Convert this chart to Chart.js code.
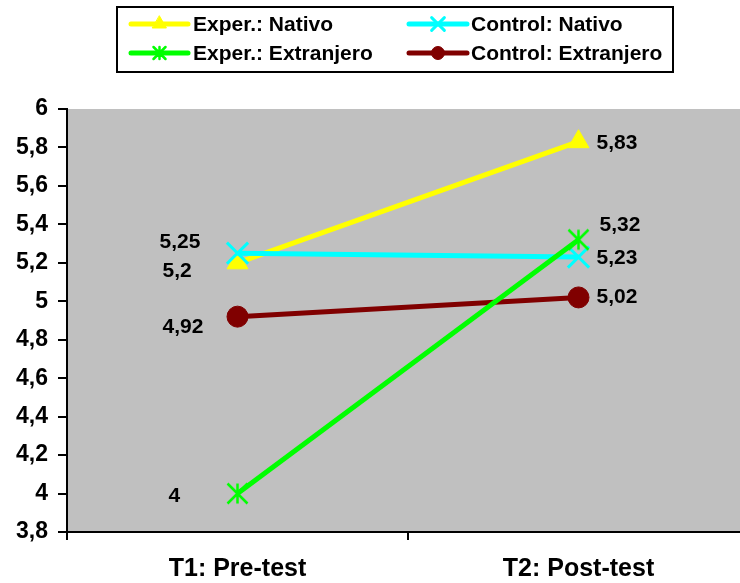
<!DOCTYPE html>
<html>
<head>
<meta charset="utf-8">
<title>T1 / T2</title>
<script src="https://cdn.jsdelivr.net/npm/chart.js@4/dist/chart.umd.min.js"></script>
<style>
  html, body { margin: 0; padding: 0; background: #ffffff; overflow: hidden; }
  #wrap { width: 750px; height: 583px; }
</style>
</head>
<body>
<div id="wrap"><canvas id="chart" width="750" height="583"></canvas></div>
<script>
// Data
const categories = ['T1: Pre-test', 'T2: Post-test'];
const seriesNames = ['Exper.: Nativo', 'Control: Nativo', 'Exper.: Extranjero', 'Control: Extranjero'];
const experNativo = [5.2, 5.83];
const controlNativo = [5.25, 5.23];
const experExtranjero = [4, 5.32];
const controlExtranjero = [4.92, 5.02];
const yTicksMin = 3.8;
const yTicksMax = 6;
const yTicksStep = 0.2;

const FONT = "'Liberation Sans', Arial, Helvetica, sans-serif";
const fmt = v => String(Number(v.toFixed(2))).replace('.', ',');

// Asterisk marker (vertical bar + diagonal cross)
function drawAsterisk(ctx, x, y, r, color, lw) {
  ctx.save();
  ctx.strokeStyle = color;
  ctx.lineWidth = lw;
  ctx.beginPath();
  ctx.moveTo(x, y - r); ctx.lineTo(x, y + r);
  ctx.moveTo(x - r, y - r); ctx.lineTo(x + r, y + r);
  ctx.moveTo(x - r, y + r); ctx.lineTo(x + r, y - r);
  ctx.stroke();
  ctx.restore();
}
function asteriskImage(r, color, lw) {
  const c = document.createElement('canvas');
  const s = Math.ceil(2 * r + lw + 2);
  c.width = s; c.height = s;
  drawAsterisk(c.getContext('2d'), s / 2, s / 2, r, color, lw);
  return c;
}

// Label placement around each point: [dx, dy] with left-aligned text
const labelOffsets = [
  [[-75, 8.5], [18, 1.5]],     // Exper.: Nativo
  [[-78, -11], [18, 1.5]],     // Control: Nativo
  [[-69, 2.5], [21, -15]],     // Exper.: Extranjero
  [[-75, 10.5], [18, -0.5]]    // Control: Extranjero
];

const plotBackground = {
  id: 'plotBackground',
  beforeDraw(chart) {
    const { ctx, chartArea: a } = chart;
    ctx.save();
    ctx.fillStyle = '#C0C0C0';
    ctx.fillRect(a.left, a.top, a.right - a.left, a.bottom - a.top);
    ctx.restore();
  }
};

const valueLabels = {
  id: 'valueLabels',
  afterDatasetsDraw(chart) {
    const ctx = chart.ctx;
    ctx.save();
    ctx.font = 'bold 21px ' + FONT;
    ctx.fillStyle = '#000';
    ctx.textAlign = 'left';
    ctx.textBaseline = 'middle';
    chart.data.datasets.forEach((ds, i) => {
      const meta = chart.getDatasetMeta(i);
      meta.data.forEach((pt, j) => {
        const off = labelOffsets[i][j];
        ctx.fillText(fmt(ds.data[j]), pt.x + off[0], pt.y + off[1]);
      });
    });
    ctx.restore();
  }
};

const boxLegend = {
  id: 'boxLegend',
  afterDraw(chart) {
    const ctx = chart.ctx;
    const box = { l: 117, t: 7, r: 673, b: 72 };
    ctx.save();
    ctx.fillStyle = '#fff';
    ctx.fillRect(box.l, box.t, box.r - box.l, box.b - box.t);
    ctx.strokeStyle = '#000';
    ctx.lineWidth = 2;
    ctx.strokeRect(box.l, box.t, box.r - box.l, box.b - box.t);
    const cols = [{ x0: 131, x1: 188, tx: 193 }, { x0: 409, x1: 467, tx: 471 }];
    const rows = [24, 53];
    const legendMarkers = [
      { pointStyle: 'triangle', radius: 8, borderWidth: 1 },
      { pointStyle: 'crossRot', radius: 9, borderWidth: 3 },
      { pointStyle: 'asterisk', radius: 6, borderWidth: 2.5 },
      { pointStyle: 'circle', radius: 6.5, borderWidth: 1 }
    ];
    chart.data.datasets.forEach((ds, i) => {
      const c = cols[i % 2], y = rows[Math.floor(i / 2)];
      const col = ds.borderColor;
      ctx.strokeStyle = col;
      ctx.lineWidth = 5;
      ctx.lineCap = 'round';
      ctx.beginPath();
      ctx.moveTo(c.x0, y); ctx.lineTo(c.x1, y);
      ctx.stroke();
      const m = legendMarkers[i], cx = (c.x0 + c.x1) / 2;
      if (m.pointStyle === 'asterisk') {
        drawAsterisk(ctx, cx, y, m.radius, col, m.borderWidth);
      } else {
        ctx.fillStyle = col;
        ctx.strokeStyle = col;
        ctx.lineWidth = m.borderWidth;
        Chart.helpers.drawPoint(ctx, { pointStyle: m.pointStyle, radius: m.radius, rotation: 0, borderWidth: m.borderWidth }, cx, y);
      }
      ctx.fillStyle = '#000';
      ctx.font = 'bold 21px ' + FONT;
      ctx.textAlign = 'left';
      ctx.textBaseline = 'middle';
      ctx.fillText(seriesNames[i], c.tx, y + 1);
    });
    ctx.restore();
  }
};

const datasets = [
  {
    label: seriesNames[0], data: experNativo,
    borderColor: '#FFFF00', backgroundColor: '#FFFF00',
    pointStyle: 'triangle', pointRadius: 12, pointBorderWidth: 1,
    pointBackgroundColor: '#FFFF00', pointBorderColor: '#FFFF00', order: 3
  },
  {
    label: seriesNames[1], data: controlNativo,
    borderColor: '#00FFFF', backgroundColor: '#00FFFF',
    pointStyle: 'crossRot', pointRadius: 15, pointBorderWidth: 3,
    pointBorderColor: '#00FFFF', order: 2
  },
  {
    label: seriesNames[2], data: experExtranjero,
    borderColor: '#00FF00', backgroundColor: '#00FF00',
    pointStyle: asteriskImage(10, '#00FF00', 2.5), pointRadius: 10, order: 0
  },
  {
    label: seriesNames[3], data: controlExtranjero,
    borderColor: '#800000', backgroundColor: '#800000',
    pointStyle: 'circle', pointRadius: 10.5, pointBorderWidth: 1,
    pointBackgroundColor: '#800000', pointBorderColor: '#800000', order: 1
  }
];
datasets.forEach(d => { d.borderWidth = 5; d.tension = 0; d.fill = false; d.pointHoverRadius = d.pointRadius; });

new Chart(document.getElementById('chart'), {
  type: 'line',
  data: { labels: categories, datasets },
  plugins: [plotBackground, valueLabels, boxLegend],
  options: {
    responsive: false,
    animation: false,
    devicePixelRatio: 1,
    layout: { autoPadding: false, padding: { top: 109, left: 0, right: 1, bottom: 0 } },
    plugins: { legend: { display: false }, tooltip: { enabled: false } },
    scales: {
      x: {
        type: 'category',
        offset: true,
        border: { display: true, color: '#000', width: 2 },
        grid: { display: true, offset: true, drawOnChartArea: false, drawTicks: true, tickLength: 8, color: '#000', lineWidth: 2 },
        ticks: { color: '#000', padding: 14, font: { family: FONT, size: 25, weight: 'bold', lineHeight: 1.2 }, maxRotation: 0 },
        afterFit(scale) { scale.height = 51; scale.paddingLeft = 0; scale.paddingRight = 0; }
      },
      y: {
        min: yTicksMin, max: yTicksMax,
        border: { display: true, color: '#000', width: 2 },
        grid: { display: true, drawOnChartArea: false, drawTicks: true, tickLength: 9, color: '#000', lineWidth: 2 },
        ticks: {
          stepSize: yTicksStep, color: '#000', padding: 10,
          font: { family: FONT, size: 23, weight: 'bold' },
          callback: v => fmt(v)
        },
        afterFit(scale) { scale.width = 67; }
      }
    }
  }
});
</script>
</body>
</html>
